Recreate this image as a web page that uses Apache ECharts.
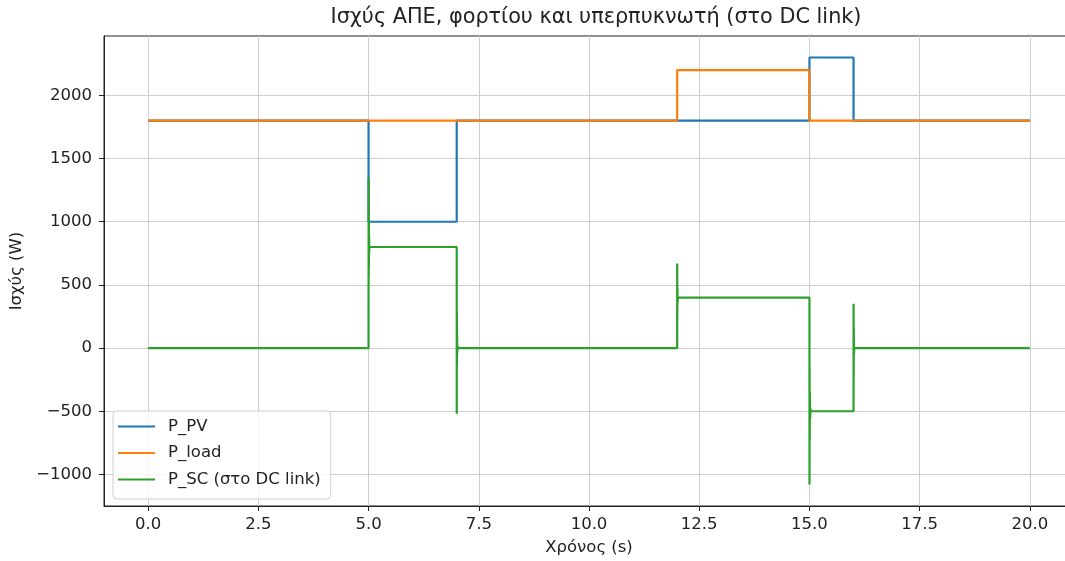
<!DOCTYPE html>
<html>
<head>
<meta charset="utf-8">
<script src="https://cdn.jsdelivr.net/npm/echarts@6/dist/echarts.min.js"></script>
<style>
  html, body { margin: 0; padding: 0; background: #fff; }
  #chart { width: 1065px; height: 561px; }
</style>
</head>
<body>
<div id="chart"></div>
<script>
// Power of the PV source, the load and the supercapacitor (on the DC link)
const titleText = 'Ισχύς ΑΠΕ, φορτίου και υπερπυκνωτή (στο DC link)';
const xName = 'Χρόνος (s)';
const yName = 'Ισχύς (W)';
const seriesNames = ['P_PV', 'P_load', 'P_SC (στο DC link)'];

const xTicks = [0, 2.5, 5, 7.5, 10, 12.5, 15, 17.5, 20];
const yTicks = [-1000, -500, 0, 500, 1000, 1500, 2000];

// PV power (step profile)
const tPV = [0, 5, 5, 7, 7, 15, 15, 16, 16, 20];
const pPV = [1800, 1800, 1000, 1000, 1800, 1800, 2300, 2300, 1800, 1800];

// Load power
const tLoad = [0, 12, 12, 15, 15, 20];
const pLoad = [1800, 1800, 2200, 2200, 1800, 1800];

// Supercapacitor power with the short transients at each step
const tSC = [0, 5, 5.002, 5.004, 5.006, 5.008, 5.012, 5.016, 5.02,
             7, 7.001, 7.003, 7.005, 7.008, 7.012, 7.018, 7.025,
             12, 12.001, 12.003, 12.006, 12.01, 12.015,
             15, 15.001, 15.003, 15.006, 15.01, 15.016, 15.022, 15.03,
             16, 16.001, 16.003, 16.006, 16.01, 16.016, 20];
const pSC = [0, 0, 1350, 560, 1030, 650, 900, 760, 800,
             800, -520, 290, -130, 120, -40, 20, 0,
             0, 670, 240, 480, 360, 400,
             400, -1080, -150, -740, -350, -560, -480, -500,
             -500, 350, -240, 150, -50, 0, 0];

const pairs = (t, v) => t.map((x, i) => [x, v[i]]);
const colors = ['#1f77b4', '#ff7f0e', '#2ca02c'];
const textColor = '#222';
const font = 'DejaVu Sans';
const fs = 16.5;

const chart = echarts.init(document.getElementById('chart'), null, { renderer: 'canvas' });

const mkSeries = (name, data, color, z) => ({
  name, type: 'line', data, symbol: 'none', showSymbol: false,
  lineStyle: { color, width: 2.2 }, itemStyle: { color },
  z, clip: true, animation: false
});

chart.setOption({
  animation: false,
  textStyle: { fontFamily: font },
  graphic: [{
    type: 'text', x: 596, y: 7, z: 10,
    style: {
      text: titleText, fontFamily: font, fontSize: 20.8, fill: textColor,
      align: 'center', verticalAlign: 'top'
    }
  }],
  grid: {
    left: 104, top: 36, width: 970, height: 470,
    outerBoundsMode: 'none', containLabel: false,
    show: true, borderColor: '#222', borderWidth: 1, backgroundColor: 'transparent'
  },
  legend: {
    orient: 'vertical', left: 113, top: 411,
    data: seriesNames.map(n => ({ name: n, icon: 'rect' })),
    itemWidth: 37, itemHeight: 2.2, itemGap: 9.5,
    backgroundColor: 'rgba(255,255,255,0.8)',
    borderColor: '#d0d0d0', borderWidth: 1, borderRadius: 4,
    padding: [7, 10, 11, 5],
    textStyle: { fontFamily: font, fontSize: fs, color: textColor, padding: [0, 0, 0, 8] }
  },
  xAxis: {
    type: 'value', min: -1, max: 21,
    name: xName, nameLocation: 'middle', nameGap: 33,
    nameTextStyle: { fontFamily: font, fontSize: fs, color: textColor },
    axisLine: { show: true, onZero: false, lineStyle: { color: '#222', width: 1 } },
    axisTick: { show: true, length: 5, inside: false, customValues: xTicks, lineStyle: { color: '#222' } },
    axisLabel: {
      customValues: xTicks, margin: 10, fontFamily: font, fontSize: fs, color: textColor,
      formatter: v => v.toFixed(1)
    },
    splitLine: { show: true, lineStyle: { color: '#cfcfcf', width: 1 } }
  },
  yAxis: {
    type: 'value', min: -1250, max: 2470,
    name: yName, nameLocation: 'middle', nameGap: 67, nameRotate: 90,
    nameTextStyle: { fontFamily: font, fontSize: fs, color: textColor },
    axisLine: { show: true, onZero: false, lineStyle: { color: '#222', width: 1 } },
    axisTick: { show: true, length: 5, inside: false, customValues: yTicks, lineStyle: { color: '#222' } },
    axisLabel: {
      customValues: yTicks, margin: 12, fontFamily: font, fontSize: fs, color: textColor,
      formatter: v => (v < 0 ? '\u2212' + Math.abs(v) : String(v))
    },
    splitLine: { show: true, lineStyle: { color: '#cfcfcf', width: 1 } }
  },
  series: [
    mkSeries(seriesNames[0], pairs(tPV, pPV), colors[0], 2),
    mkSeries(seriesNames[1], pairs(tLoad, pLoad), colors[1], 3),
    mkSeries(seriesNames[2], pairs(tSC, pSC), colors[2], 4)
  ]
});
</script>
</body>
</html>
